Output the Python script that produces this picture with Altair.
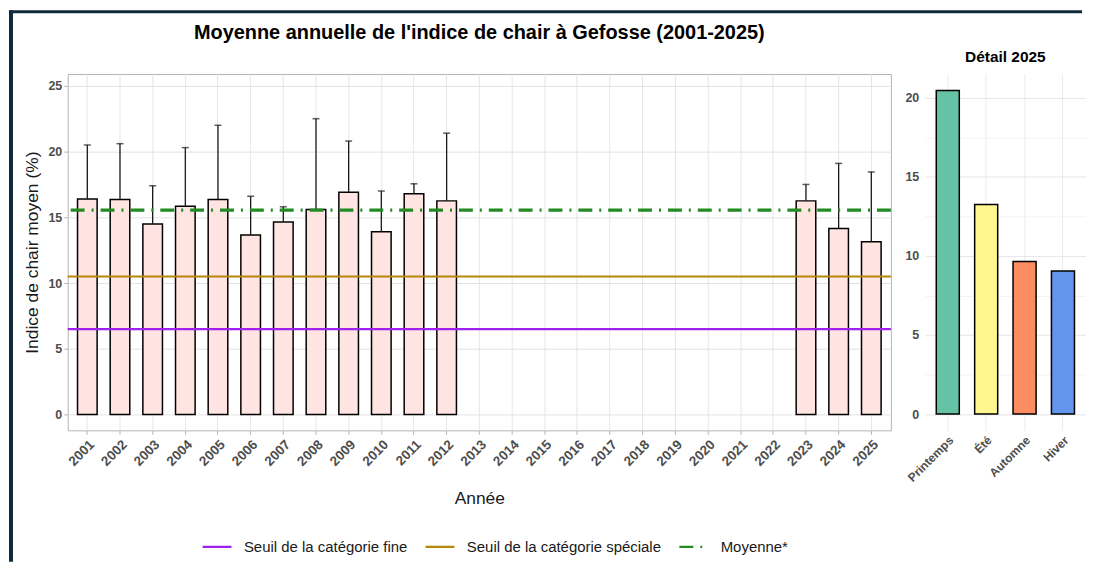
import altair as alt
import pandas as pd

FONT = "Liberation Sans"

# ---------------- data ----------------
all_years = [str(y) for y in range(2001, 2026)]
obs_years = ["2001", "2002", "2003", "2004", "2005", "2006", "2007", "2008",
             "2009", "2010", "2011", "2012", "2023", "2024", "2025"]
mean_vals = [16.4, 16.35, 14.5, 15.85, 16.35, 13.65, 14.65, 15.6,
             16.9, 13.9, 16.8, 16.25, 16.25, 14.15, 13.15]
upper_vals = [20.5, 20.6, 17.4, 20.3, 22.0, 16.6, 15.8, 22.5,
              20.8, 17.0, 17.55, 21.4, 17.5, 19.1, 18.45]

ref_labels = ["Seuil de la catégorie fine", "Seuil de la catégorie spéciale", "Moyenne*"]
ref_values = [6.5, 10.5, 15.55]
ref_colors = ["#A020F0", "#B8860B", "#228B22"]

seasons = ["Printemps", "Été", "Automne", "Hiver"]
season_vals = [20.45, 13.25, 9.65, 9.05]
season_colors = ["#66C2A5", "#FFF68F", "#FC8D62", "#6495ED"]

y_ticks = [0, 2.5, 5, 7.5, 10, 12.5, 15, 17.5, 20, 22.5, 25]
y_ticks_r = [0, 2.5, 5, 7.5, 10, 12.5, 15, 17.5, 20]

df = pd.DataFrame({"Année": obs_years, "moy": mean_vals, "sup": upper_vals})
refs = pd.DataFrame({"label": ref_labels, "val": ref_values})
sdf = pd.DataFrame({"saison": seasons, "val": season_vals})
one = pd.DataFrame({"k": [0]})

LW, LH = 827, 358
RW = 162
BORDER = "#0e2a3a"

major_test = "datum.value % 5 === 0"

x_left = alt.X(
    "Année:N",
    scale=alt.Scale(domain=all_years, paddingInner=0.4, paddingOuter=0.3),
    axis=alt.Axis(
        title="Année", labelAngle=315, labelAlign="right", labelBaseline="top",
        labelFont=FONT, labelFontSize=13.5, labelFontWeight="bold", labelColor="#4d4d4d",
        titleFont=FONT, titleFontSize=17.5, titleFontWeight="normal", titleColor="#1a1a1a",
        titlePadding=22, domain=False, ticks=True, tickColor="#b3b3b3", tickSize=4,
        grid=True, gridColor="#e6e6e6", bandPosition=0.5, labelPadding=3,
    ),
)
y_scale_left = alt.Scale(domain=[-1.2, 25.9], nice=False, zero=False)
y_axis_left = alt.Axis(
    title="Indice de chair moyen (%)", values=y_ticks,
    labelExpr="datum.value % 5 === 0 ? datum.label : ''",
    labelFont=FONT, labelFontSize=12.5, labelFontWeight="bold", labelColor="#4d4d4d",
    titleFont=FONT, titleFontSize=17.5, titleFontWeight="normal", titleColor="#1a1a1a",
    titlePadding=6, domain=False, tickSize=4, labelPadding=2,
    tickColor={"condition": {"test": major_test, "value": "#b3b3b3"}, "value": "transparent"},
    gridColor={"condition": {"test": major_test, "value": "#e3e3e3"}, "value": "#f2f2f2"},
)

base = alt.Chart(df)
bars = base.mark_bar(fill="#FFE4E1", stroke="black", strokeWidth=1.5).encode(
    x=x_left, y=alt.Y("moy:Q", scale=y_scale_left, axis=y_axis_left)
)
err = base.mark_rule(color="#1a1a1a", strokeWidth=1.3).encode(
    x=alt.X("Année:N"), y="moy:Q", y2="sup:Q"
)
cap = base.mark_tick(color="#1a1a1a", thickness=1.5, size=7).encode(
    x=alt.X("Année:N"), y="sup:Q"
)

leg = alt.Legend(
    title=None, orient="none", direction="horizontal", legendX=134, legendY=459,
    symbolType="stroke", symbolSize=841, symbolStrokeWidth=2.2,
    labelFont=FONT, labelFontSize=15, labelColor="#1a1a1a", labelOffset=11,
    labelLimit=400, columnPadding=13,
)
stroke_enc = alt.Stroke("label:N", scale=alt.Scale(domain=ref_labels, range=ref_colors),
                        sort=ref_labels, legend=leg)
dash_enc = alt.StrokeDash("label:N",
                          scale=alt.Scale(domain=ref_labels,
                                          range=[[1, 0], [1, 0], [14, 7, 2, 7]]),
                          sort=ref_labels, legend=leg)
solid_lines = alt.Chart(refs).transform_filter(
    alt.datum.label != "Moyenne*"
).mark_rule(strokeWidth=2.2).encode(y="val:Q", stroke=stroke_enc, strokeDash=dash_enc)
mean_line = alt.Chart(refs).transform_filter(
    alt.datum.label == "Moyenne*"
).mark_rule(strokeWidth=3.3).encode(y="val:Q", stroke=stroke_enc, strokeDash=dash_enc)

# decorative frame (dark strip on top and left of the screenshot)
top_strip = alt.Chart(one).mark_rect(color=BORDER).encode(
    x=alt.value(-59), x2=alt.value(1019), y=alt.value(-64), y2=alt.value(-61)
)
left_strip = alt.Chart(one).mark_rect(color=BORDER).encode(
    x=alt.value(-59), x2=alt.value(-55), y=alt.value(-64), y2=alt.value(490)
)

left = alt.layer(bars, err, cap, solid_lines, mean_line, top_strip, left_strip).properties(
    width=LW, height=LH,
    title=alt.TitleParams("Moyenne annuelle de l'indice de chair à Gefosse (2001-2025)",
                          font=FONT, fontSize=20, fontWeight="bold", color="#000000",
                          anchor="middle", offset=0, dy=33),
    view=alt.ViewBackground(stroke="#b3b3b3", strokeWidth=1),
)

right = alt.Chart(sdf).mark_bar(stroke="black", strokeWidth=1.5).encode(
    x=alt.X("saison:N", sort=seasons,
            scale=alt.Scale(paddingInner=0.4, paddingOuter=0.3),
            axis=alt.Axis(title=None, labelAngle=315, labelAlign="right", labelBaseline="top",
                          labelFont=FONT, labelFontSize=12, labelFontWeight="bold",
                          labelColor="#4d4d4d", domain=False, ticks=False, grid=True,
                          gridColor="#ebebeb", bandPosition=0.5, labelPadding=4)),
    y=alt.Y("val:Q", scale=alt.Scale(domain=[-1.025, 21.5], nice=False, zero=False),
            axis=alt.Axis(title=None, values=y_ticks_r,
                          labelExpr="datum.value % 5 === 0 ? datum.label : ''",
                          labelFont=FONT, labelFontSize=12.5, labelFontWeight="bold",
                          labelColor="#4d4d4d", domain=False, ticks=False, labelPadding=6,
                          gridColor={"condition": {"test": major_test, "value": "#e6e6e6"},
                                     "value": "#f3f3f3"})),
    fill=alt.Fill("saison:N", scale=alt.Scale(domain=seasons, range=season_colors), legend=None),
).properties(
    width=RW, height=LH,
    title=alt.TitleParams("Détail 2025", font=FONT, fontSize=15.5, fontWeight="bold",
                          color="#000000", anchor="middle", offset=8.5),
    view=alt.ViewBackground(stroke=None),
)

chart = alt.hconcat(left, right, spacing=34, bounds="flush").properties(
    padding={"left": 0, "top": 0, "right": 0, "bottom": 0},
    background="white",
).configure_view(stroke="#b3b3b3")

chart.save("out.html", embed_options={"renderer": "svg", "actions": False})
